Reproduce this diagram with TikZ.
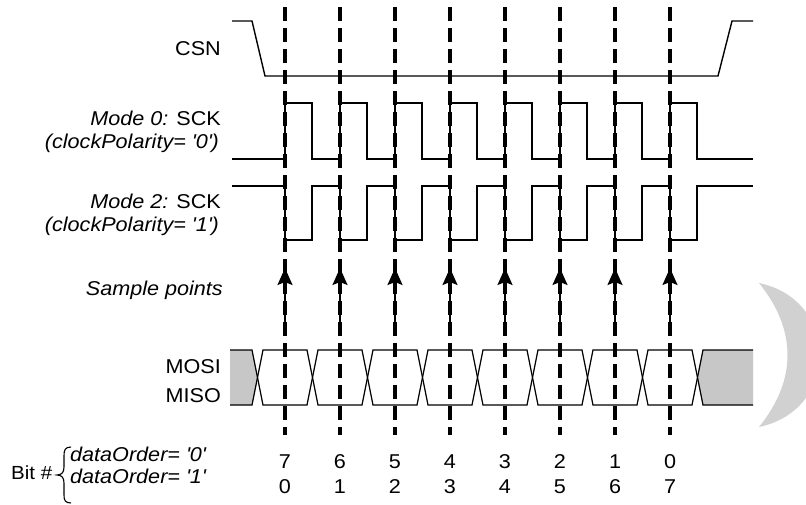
\documentclass[tikz,border=0pt]{standalone}
\usepackage{fontspec}
\setmainfont[FakeStretch=1.08]{Liberation Sans}
\usetikzlibrary{arrows.meta}

\begin{document}
\begin{tikzpicture}[
  x=1pt, y=-1pt,
  font=\fontsize{20}{22}\selectfont,
  lbl/.style={anchor=base east, inner sep=0pt},
  num/.style={anchor=base, inner sep=0pt},
  sig/.style={draw=black, line width=1.4pt},
  bus/.style={draw=black, line width=1.2pt},
  grid/.style={draw=black, line width=3.2pt, dash pattern=on 14pt off 7pt},
  smp/.style={draw=black, line width=2pt, -{Stealth[length=17pt, width=15pt, inset=3pt]}},
  idle/.style={fill=black!22},
]

\def\xL{232}   \def\xR{753}
\def\xA{285}   \def\dT{55}
\def\yCh{21}   \def\yCl{76}
\def\yAh{103}  \def\yAl{159}
\def\yBh{186}  \def\yBl{240}
\def\yDt{350}  \def\yDm{377.5} \def\yDb{405}
\def\xX{257.5} \def\wX{5.5}

\useasboundingbox (0,0) rectangle (806,504);

%% ====================================================================
%%  PAGE SHADOW
%% ====================================================================
\fill[black!18] (759,283) .. controls (840,300) and (840,410) .. (759,427)
  .. controls (797,380) and (797,330) .. (759,283) -- cycle;

%% ====================================================================
%%  CLOCK EDGE GRID
%% ====================================================================
\foreach \k in {0,...,7}
  \draw[grid] ({\xA+\dT*\k},7) -- ({\xA+\dT*\k},435);

%% ====================================================================
%%  CSN
%% ====================================================================
\node[lbl] (csn) at (221,55) {CSN};
\draw[sig] (\xL,\yCh) -- (252,\yCh) -- (265,\yCl) -- (718,\yCl) -- (732,\yCh) -- (\xR,\yCh);

%% ====================================================================
%%  SCK, MODE 0 AND MODE 2
%% ====================================================================
\node[lbl] (sckA) at (221,125) {\textit{Mode 0:} SCK};
\node[lbl] (polA) at (219,148) {\textit{(clockPolarity= \textquotesingle0\textquotesingle)}};
\draw[sig] (\xL,\yAl) foreach \k in {0,...,7} {
  -- ({\xA+\dT*\k},\yAl) -- ({\xA+\dT*\k},\yAh)
  -- ({\xA+\dT*\k+27},\yAh) -- ({\xA+\dT*\k+27},\yAl) } -- (\xR,\yAl);

\node[lbl] (sckB) at (221,208) {\textit{Mode 2:} SCK};
\node[lbl] (polB) at (219,231) {\textit{(clockPolarity= \textquotesingle1\textquotesingle)}};
\draw[sig] (\xL,\yBh) foreach \k in {0,...,7} {
  -- ({\xA+\dT*\k},\yBh) -- ({\xA+\dT*\k},\yBl)
  -- ({\xA+\dT*\k+27},\yBl) -- ({\xA+\dT*\k+27},\yBh) } -- (\xR,\yBh);

%% ====================================================================
%%  SAMPLE POINTS
%% ====================================================================
\node[lbl] (sample) at (223,295) {\textit{Sample points}};
\foreach \k in {0,...,7}
  \draw[smp] ({\xA+\dT*\k},330) -- ({\xA+\dT*\k},268);

%% ====================================================================
%%  MOSI / MISO
%% ====================================================================
\node[lbl] (mosi) at (221,373) {MOSI};
\node[lbl] (miso) at (221,402) {MISO};

\fill[idle] (230,\yDt) -- (\xX-\wX,\yDt) -- (\xX,\yDm) -- (\xX-\wX,\yDb) -- (230,\yDb) -- cycle;
\draw[bus] (230,\yDt) -- (\xX-\wX,\yDt) -- (\xX,\yDm) -- (\xX-\wX,\yDb) -- (230,\yDb);

\foreach \k in {0,...,7}
  \draw[bus] ({\xX+\dT*\k},\yDm) -- ({\xX+\dT*\k+\wX},\yDt)
    -- ({\xX+\dT*(\k+1)-\wX},\yDt) -- ({\xX+\dT*(\k+1)},\yDm)
    -- ({\xX+\dT*(\k+1)-\wX},\yDb) -- ({\xX+\dT*\k+\wX},\yDb) -- cycle;

\fill[idle] ({\xX+\dT*8},\yDm) -- ({\xX+\dT*8+\wX},\yDt) -- (\xR,\yDt) -- (\xR,\yDb) -- ({\xX+\dT*8+\wX},\yDb) -- cycle;
\draw[bus] (\xR,\yDt) -- ({\xX+\dT*8+\wX},\yDt) -- ({\xX+\dT*8},\yDm) -- ({\xX+\dT*8+\wX},\yDb) -- (\xR,\yDb);

%% ====================================================================
%%  BIT NUMBERS
%% ====================================================================
\node[anchor=base west, inner sep=0pt, font=\fontsize{19}{22}\selectfont] (bit) at (11,479) {Bit \#};
\draw[line width=1.1pt] (71,447) .. controls (65,447) and (64,450) .. (64,456) -- (64,467)
  .. controls (64,472) and (62,475) .. (57,475)
  .. controls (62,475) and (64,478) .. (64,483) -- (64,495)
  .. controls (64,500) and (65,503) .. (71,503);
\node[anchor=base west, inner sep=0pt] (ordA) at (70,461) {\textit{dataOrder= \textquotesingle0\textquotesingle}};
\node[anchor=base west, inner sep=0pt] (ordB) at (70,483) {\textit{dataOrder= \textquotesingle1\textquotesingle}};

\foreach \k [evaluate=\k as \r using int(7-\k)] in {0,...,7} {
  \node[num] (msb\k) at ({\xA+\dT*\k},468) {\r};
  \node[num] (lsb\k) at ({\xA+\dT*\k},493) {\k};
}

\end{tikzpicture}
\end{document}
